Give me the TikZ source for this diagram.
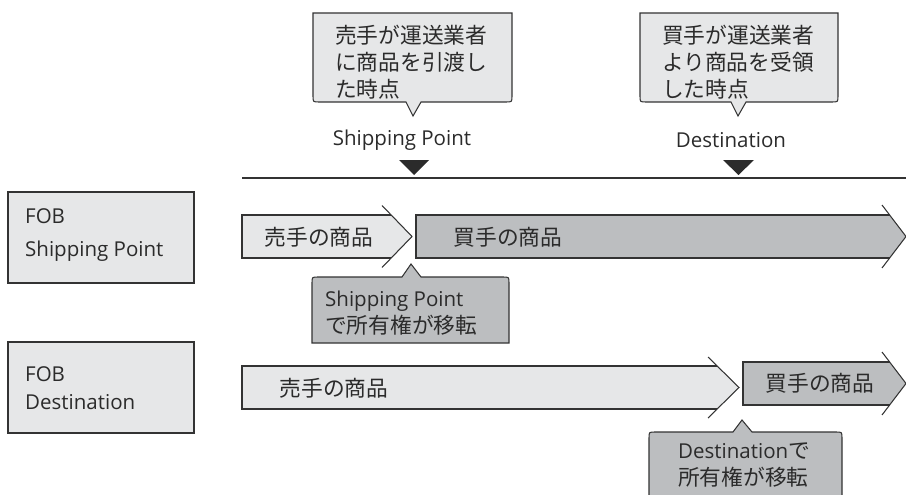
\documentclass[tikz,border=0pt]{standalone}
\usepackage{fontspec}
\setmainfont{Open Sans}
\newfontfamily\jp[Scale=1.06]{Noto Sans CJK JP}
\definecolor{lightg}{HTML}{E6E7E8}
\definecolor{darkg}{HTML}{BCBEC0}
\definecolor{linec}{HTML}{333333}
\definecolor{textc}{HTML}{2B2B2B}
\newcommand\drawchev[7]{%
 \pgfmathsetmacro\xr{#4-#6*#3/#5}%
 \fill[#7] (#1,#2-#3) -- (\xr,#2-#3) -- (#4,#2) -- (\xr,#2+#3) -- (#1,#2+#3) -- cycle;
 \draw[bord] (\xr,#2-#3) -- (#1,#2-#3) -- (#1,#2+#3) -- (\xr,#2+#3);
 \draw[bord] (#4-#6,#2-#5) -- (#4,#2) -- (#4-#6,#2+#5);
}
\begin{document}
\begin{tikzpicture}[x=1pt,y=-1pt,
  bord/.style={draw=linec, line width=1.05pt},
  txt/.style={inner sep=0pt, text=textc, align=left, font=\fontsize{20.5}{27}\selectfont},
  boxtxt/.style={txt, font=\fontsize{20.5}{33}\selectfont},
  boxtxtb/.style={txt, font=\fontsize{20.5}{28}\selectfont},
]
\useasboundingbox (0,0) rectangle (906,495);

% top callouts
\draw[bord, fill=lightg] (313,13) -- (512,13) -- (512,96) .. controls (512,102) .. (506,102) -- (421,102) -- (413,116) -- (406,102) -- (319,102) .. controls (313,102) .. (313,96) -- cycle;
\node[txt, anchor=west] (c1) at (335,62) {\jp 売手が運送業者\\\jp に商品を引渡し\\\jp た時点};
\draw[bord, fill=lightg] (640,13) -- (838,13) -- (838,96) .. controls (838,102) .. (832,102) -- (746,102) -- (738,116) -- (731,102) -- (646,102) .. controls (640,102) .. (640,96) -- cycle;
\node[txt, anchor=west] (c2) at (662,62) {\jp 買手が運送業者\\\jp より商品を受領\\\jp した時点};

% timeline
\node[txt, anchor=center] (sp) at (402,140) {Shipping Point};
\node[txt, anchor=center] (dst) at (731,140) {Destination};
\fill[textc] (399,160) -- (429,160) -- (414,175) -- cycle;
\fill[textc] (723,160) -- (754,160) -- (738.5,175) -- cycle;
\coordinate (tl0) at (242,178);
\coordinate (tl1) at (906,178);
\draw[linec, line width=1.3pt] (tl0) -- (tl1);

% FOB boxes
\draw[bord, fill=lightg] (8,192) rectangle (194,283);
\node[boxtxt, anchor=west] (fob1) at (25,235) {FOB\\Shipping Point};
\draw[bord, fill=lightg] (8,342) rectangle (194,433);
\node[boxtxtb, anchor=west] (fob2) at (25,388) {FOB\\Destination};

% row 1
\drawchev{242}{236.5}{21.5}{412}{31}{30}{lightg}
\node[txt, anchor=center] (s1) at (319,237) {\jp 売手の商品};
\drawchev{416}{236.5}{21.5}{906}{31.5}{24}{darkg}
\node[txt, anchor=center] (b1) at (508,237) {\jp 買手の商品};

\draw[bord, fill=darkg] (312,343) -- (312,283) .. controls (312,277) .. (318,277) -- (402,277) -- (411,264) -- (421,277) -- (503,277) .. controls (509,277) .. (509,283) -- (509,343) -- cycle;
\node[txt, anchor=west] (c3) at (325,313) {Shipping Point\\{\jp で所有権が移転}};

% row 2
\drawchev{242}{387.5}{21.5}{739}{30.5}{31}{lightg}
\node[txt, anchor=center] (s2) at (334,388) {\jp 売手の商品};
\drawchev{743}{383.5}{21.5}{906}{31.5}{24}{darkg}
\node[txt, anchor=center] (b2) at (820,383) {\jp 買手の商品};

\draw[bord, fill=darkg] (649,500) -- (649,438) .. controls (649,432) .. (655,432) -- (733,432) -- (742,420) -- (752,432) -- (836,432) .. controls (842,432) .. (842,438) -- (842,500);
\node[txt, anchor=west] (c4) at (678,465.5) {Destination{\jp で}\\{\jp 所有権が移転}};
\end{tikzpicture}
\end{document}
